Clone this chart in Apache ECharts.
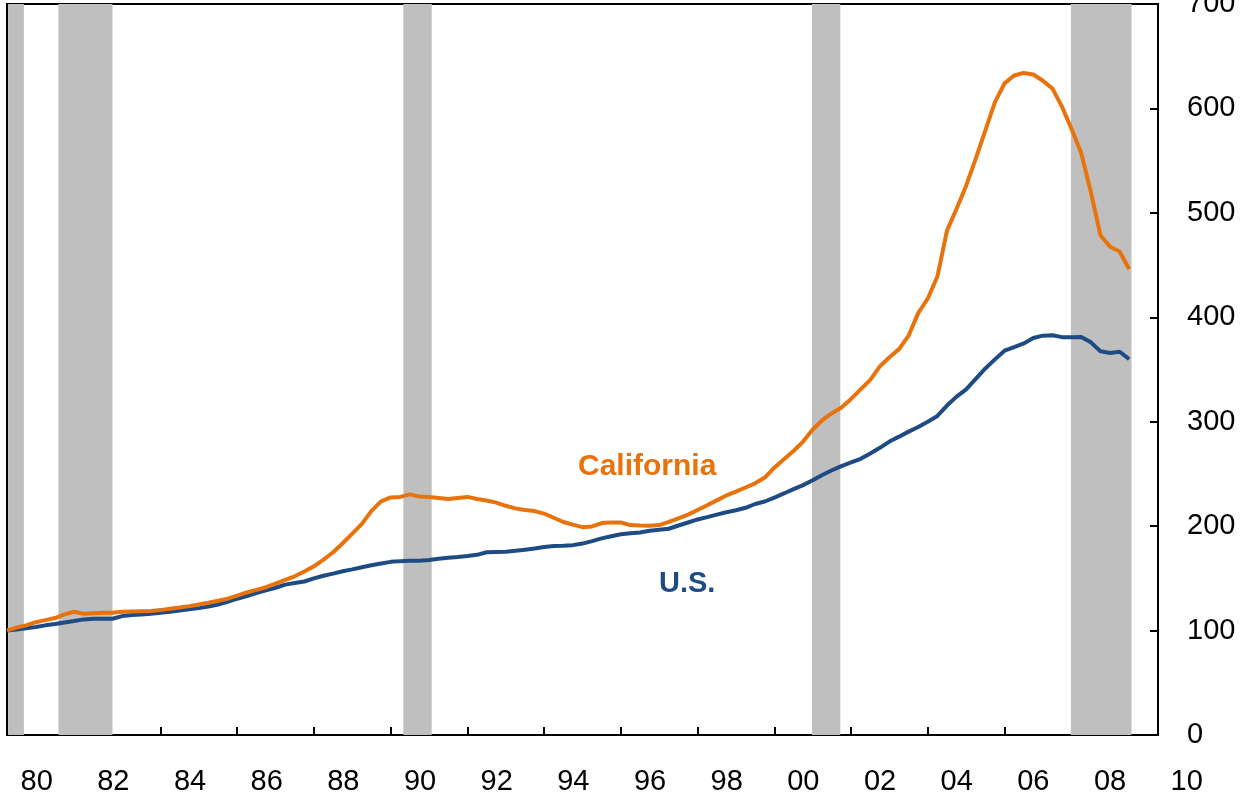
<!DOCTYPE html>
<html>
<head>
<meta charset="utf-8">
<script src="https://cdn.jsdelivr.net/npm/echarts@6/dist/echarts.min.js"></script>
<style>
  html, body { margin: 0; padding: 0; background: #ffffff; }
  #chart { width: 1251px; height: 798px; }
</style>
</head>
<body>
<div id="chart"></div>
<script>
// Quarterly house price index (1980Q1 = 100), 1980Q1 .. 2009Q2
const firstYear = 1980;
const california = [
  100, 103, 105, 108, 110, 112, 115.5, 118, 116, 116.7, 117, 117,
  118, 118.3, 118.5, 118.7, 119.6, 121, 122, 123.4, 125, 126.6, 128.5, 130.5,
  133.5, 136.5, 139, 141.5, 145, 148.5, 152, 156.5, 161.5, 168, 175, 183.6,
  192.8, 202.2, 214.6, 223.8, 227.5, 228, 230.4, 228.3, 228, 227, 226, 227,
  228, 226, 224.5, 222.5, 219.5, 217, 215.5, 214.4, 212, 208, 204, 201.5,
  199, 199.7, 203, 203.5, 203.5, 201, 200.5, 200.3, 201, 204, 207.5, 211,
  215.5, 220, 224.7, 229.4, 233, 237, 241, 246.5, 256, 264, 272, 281,
  292.5, 301.5, 308.2, 313.6, 321.8, 331, 340, 353, 361.7, 369.5, 382.5, 404,
  418, 439, 483, 504, 526, 552, 579, 606, 624, 631.5, 634, 632.5,
  626.5, 619, 601.5, 580, 557, 520, 478.5, 467.5, 463, 446
];
const us = [
  100, 101, 102.3, 103.5, 105, 106.3, 107.8, 109.2, 110.7, 111.3, 111.3, 111.3,
  113.9, 115, 115.5, 116.1, 117, 118, 119.3, 120.3, 121.5, 123, 125, 127.5,
  130.5, 133, 136, 138.5, 141, 144, 145.5, 147, 150, 152.5, 154.5, 156.8,
  158.6, 160.7, 162.5, 164.2, 165.8, 166.5, 166.8, 166.8, 167.5, 168.8, 169.8, 170.5,
  171.4, 172.5, 175, 175.2, 175.4, 176.4, 177.5, 178.6, 180, 180.9, 181.3, 181.8,
  183.3, 185.6, 188.3, 190.3, 192.3, 193.2, 194, 195.5, 196.5, 197.5, 200.6, 203.5,
  206.4, 208.6, 211, 213.3, 215.2, 217.6, 221.2, 223.6, 227.3, 231.3, 235.4, 239.3,
  244, 249, 253.5, 257.5, 261, 264.5, 269.5, 275, 281, 285.7, 290.5, 295,
  300, 305.5, 315.5, 324, 331, 341, 351, 359.7, 368, 371.5, 375, 380.2,
  382.4, 382.8, 381, 381, 381.2, 376, 367.5, 365.8, 367, 360
];
// Recession periods (start, end) in decimal years
const recessionStart = [1980.03, 1981.34, 1990.33, 2000.98, 2007.73];
const recessionEnd   = [1980.44, 1982.75, 1991.07, 2001.72, 2009.31];
// Tick labels
const xTickLabels = ['80','82','84','86','88','90','92','94','96','98','00','02','04','06','08','10'];
const yMin = 0, yMax = 700, yStep = 100;

const quarterX = california.map((_, i) => firstYear + i * 0.25);
const caData = california.map((v, i) => [quarterX[i], v]);
const usData = us.map((v, i) => [quarterX[i], v]);
const bands = recessionStart.map((s, i) => [{ xAxis: s }, { xAxis: recessionEnd[i] }]);

const FONT = '"Liberation Sans", Arial, sans-serif';
const ORANGE = '#E8720C';
const BLUE = '#1F4B85';

const chart = echarts.init(document.getElementById('chart'), null, { renderer: 'canvas' });
chart.setOption({
  backgroundColor: '#ffffff',
  animation: false,
  grid: [
    { left: 7, right: 93, top: 4, bottom: 63, show: true, borderColor: '#000', borderWidth: 2,
      backgroundColor: 'transparent', containLabel: false, outerBoundsMode: 'none' },
    { left: 36.7, right: 64.3, top: 4, bottom: 63, show: false, containLabel: false, outerBoundsMode: 'none' }
  ],
  xAxis: [
    {
      type: 'value', gridIndex: 0, min: 1980, max: 2010, interval: 2,
      axisLine: { show: true, lineStyle: { color: '#000', width: 2 } },
      axisTick: { show: true, inside: true, length: 8, lineStyle: { color: '#000', width: 2 } },
      axisLabel: { show: false },
      splitLine: { show: false }
    },
    {
      type: 'category', gridIndex: 1, data: xTickLabels, boundaryGap: false,
      axisLine: { show: false }, axisTick: { show: false }, splitLine: { show: false },
      axisLabel: { show: true, interval: 0, margin: 32, color: '#000', fontSize: 29, fontFamily: FONT, lineHeight: 29 }
    }
  ],
  yAxis: [
    {
      type: 'value', gridIndex: 0, position: 'right', min: yMin, max: yMax, interval: yStep,
      axisLine: { show: true, lineStyle: { color: '#000', width: 2 } },
      axisTick: { show: true, inside: true, length: 8, lineStyle: { color: '#000', width: 2 } },
      axisLabel: { show: true, margin: 29, color: '#000', fontSize: 29, fontFamily: FONT, align: 'left' },
      splitLine: { show: false }
    },
    { type: 'value', gridIndex: 1, min: 0, max: 1, show: false }
  ],
  series: [
    {
      name: 'recessions', type: 'line', xAxisIndex: 0, yAxisIndex: 0, data: [], z: 1,
      markArea: { silent: true, itemStyle: { color: '#BFBFBF', opacity: 1 }, data: bands }
    },
    {
      name: 'U.S.', type: 'line', xAxisIndex: 0, yAxisIndex: 0, data: usData, z: 3,
      showSymbol: false, symbol: 'none', lineStyle: { color: BLUE, width: 4 }, itemStyle: { color: BLUE }
    },
    {
      name: 'California', type: 'line', xAxisIndex: 0, yAxisIndex: 0, data: caData, z: 4,
      showSymbol: false, symbol: 'none', lineStyle: { color: ORANGE, width: 4 }, itemStyle: { color: ORANGE }
    }
  ],
  graphic: [
    { type: 'text', left: 578, top: 452, style: { text: 'California', fill: ORANGE, font: 'bold 30px ' + FONT } },
    { type: 'text', left: 659, top: 569, style: { text: 'U.S.', fill: BLUE, font: 'bold 29px ' + FONT } }
  ]
});
</script>
</body>
</html>
